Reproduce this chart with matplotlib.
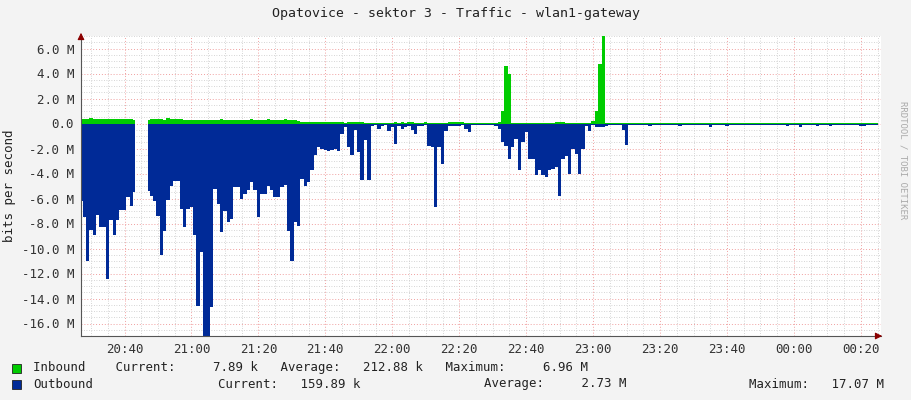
import matplotlib
matplotlib.use("Agg")
import matplotlib.pyplot as plt
import numpy as np
from matplotlib.ticker import MultipleLocator

nan = float('nan')
# minutes since 20:27, 1 sample per minute
outbound = [6.2,7.5,11,8.5,8.9,7.3,8.3,8.3,12.4,7.7,8.9,7.7,6.9,6.9,5.9,6.6,5.5,nan,nan,nan,
 5.4,5.8,6.2,7.4,10.5,8.6,6.1,5.0,4.6,4.6,6.8,8.3,6.8,6.7,8.9,14.6,10.3,17,17,14.7,
 5.2,6.4,8.7,7.0,7.9,7.6,5.1,5.1,6.0,5.6,5.3,4.7,5.3,7.5,5.6,5.6,5.0,5.3,5.9,5.9,
 5.1,4.9,8.6,11,7.9,8.2,4.4,5.0,4.7,3.7,2.5,1.9,2.0,2.1,2.2,2.1,2.0,2.2,0.8,0.3,
 1.9,2.5,0.5,2.3,4.5,1.3,4.5,0.2,0.1,0.4,0.2,0.1,0.6,0.3,1.6,0.2,0.4,0.3,0.2,0.5,
 0.8,0.2,0.2,0.1,1.8,1.9,6.7,1.9,3.2,0.6,0.2,0.2,0.2,0.2,0.1,0.4,0.7,0.1,0.1,0.1,
 0.1,0.1,0.1,0.1,0.2,0.4,1.5,1.8,2.8,1.9,1.2,3.7,1.5,0.7,2.8,2.8,4.1,3.7,4.1,4.3,
 3.7,3.6,3.5,5.8,2.8,2.6,4.0,2.0,2.4,4.0,2.0,0.2,0.6,0.1,0.3,0.3,0.3,0.2,0.1,0.1,
 0.1,0.1,0.5,1.7,0.1,0.1,0.1,0.1,0.1,0.1,0.2,0.1,0.1,0.1,0.1,0.1,0.1,0.1,0.1,0.2,
 0.1,0.1,0.1,0.1,0.1,0.1,0.1,0.1,0.3,0.1,0.1,0.1,0.1,0.2,0.1,0.1,0.1,0.1,0.1,0.1,
 0.1,0.1,0.1,0.1,0.1,0.1,0.1,0.1,0.1,0.1,0.1,0.2,0.1,0.1,0.1,0.3,0.1,0.1,0.1,0.1,
 0.2,0.1,0.1,0.1,0.2,0.1,0.1,0.1,0.1,0.1,0.1,0.1,0.1,0.2,0.2,0.1,0.1,0.1,0.1]
inbound = [0.35,0.4,0.4,0.45,0.4,0.4,0.35,0.4,0.4,0.35,0.4,0.35,0.35,0.4,0.35,0.4,0.3,nan,nan,nan,
 0.3,0.35,0.35,0.4,0.35,0.3,0.45,0.4,0.35,0.4,0.35,0.3,0.3,0.3,0.3,0.3,0.3,0.3,0.3,0.3,
 0.3,0.3,0.35,0.3,0.3,0.3,0.3,0.3,0.3,0.3,0.3,0.35,0.3,0.3,0.3,0.3,0.35,0.3,0.3,0.3,
 0.3,0.35,0.3,0.3,0.25,0.2,0.15,0.15,0.15,0.15,0.1,0.1,0.1,0.1,0.1,0.1,0.1,0.1,0.1,0.05,
 0.15,0.15,0.15,0.1,0.1,0.05,0.05,0.05,0.05,0.05,0.05,0.05,0.05,0.05,0.1,0.05,0.1,0.05,0.1,0.1,
 0.05,0.05,0.05,0.15,0.05,0.05,0.05,0.05,0.05,0.05,0.1,0.15,0.1,0.1,0.1,0.05,0.05,0.05,0.05,0.05,
 0.05,0.05,0.05,0.05,0.05,0.1,1.0,4.6,4.0,0.05,0.05,0.05,0.05,0.05,0.05,0.05,0.05,0.05,0.05,0.05,
 0.05,0.05,0.1,0.1,0.1,0.05,0.05,0.05,0.05,0.05,0.05,0.05,0.05,0.2,1.0,4.8,7.0,0.05,0.05,0.05]
inbound += [0.02] * (len(outbound) - len(inbound))

tick_pos = [13,33,53,73,93,113,133,153,173,193,213,233]
tick_labels = ["20:40","21:00","21:20","21:40","22:00","22:20","22:40","23:00","23:20","23:40","00:00","00:20"]

plt.rcParams['font.family'] = ['DejaVu Sans Mono']
fig = plt.figure(figsize=(9.11, 4.0), dpi=100, facecolor='#f3f3f3')
ax = fig.add_axes([81/911, 64/400, 800/911, 300/400])
ax.set_facecolor('white')

x = np.arange(len(outbound))
o = -np.array(outbound, dtype=float)
i = np.array(inbound, dtype=float)
ax.fill_between(x, 0, i, step='mid', color='#00cc00', linewidth=0)
ax.fill_between(x, 0, o, step='mid', color='#002a97', linewidth=0)

ax.set_xlim(0, 239)
ax.set_ylim(-17, 7)
ax.yaxis.set_major_locator(MultipleLocator(2))
ax.yaxis.set_minor_locator(MultipleLocator(0.5))
ax.set_xticks(tick_pos)
ax.set_xticklabels(tick_labels)
ax.set_xticks(np.arange(3, 239, 5), minor=True)
ax.set_yticklabels([f"{v:.1f} M" if v != 0 else "0.0" for v in ax.get_yticks()])
ax.grid(which='minor', color='#c8c8c8', linestyle=(0, (1, 2)), linewidth=0.6)
ax.grid(which='major', color='#f0a0a0', linestyle=(0, (1, 2)), linewidth=0.7)
ax.set_axisbelow(True)
for s in ['top', 'right']:
    ax.spines[s].set_visible(False)
for s in ['left', 'bottom']:
    ax.spines[s].set_color('#555555')
ax.tick_params(which='both', length=0, labelsize=9, colors='#333333', pad=5)
ax.annotate('', xy=(1.005, 0), xytext=(0.99, 0), xycoords='axes fraction',
            arrowprops=dict(arrowstyle='-|>', color='#8b0000', lw=0.8))
ax.annotate('', xy=(0, 1.02), xytext=(0, 0.99), xycoords='axes fraction',
            arrowprops=dict(arrowstyle='-|>', color='#8b0000', lw=0.8))
ax.set_ylabel('bits per second', fontsize=9, color='#222222')

fig.text(0.5, 1 - 14/400, 'Opatovice - sektor 3 - Traffic - wlan1-gateway',
         ha='center', va='center', fontsize=9.5, color='#222222')
fig.text(903/911, 0.5 + 40/400, 'RRDTOOL / TOBI OETIKER', rotation=270,
         ha='center', va='center', fontsize=6.5, color='#aaaaaa')

fig.patches.append(plt.Rectangle((12/911, 1 - 373/400), 9/911, 9/400, transform=fig.transFigure,
                                 facecolor='#00cc00', edgecolor='#222222', lw=0.6))
fig.patches.append(plt.Rectangle((12/911, 1 - 389/400), 9/911, 9/400, transform=fig.transFigure,
                                 facecolor='#002a97', edgecolor='#222222', lw=0.6))
fs = 8.9
fig.text(33/911, 1 - 368/400, 'Inbound    Current:     7.89 k   Average:   212.88 k   Maximum:     6.96 M',
         va='center', fontsize=fs, color='#222222')
fig.text(33/911, 1 - 384/400, 'Outbound', va='center', fontsize=fs, color='#222222')
fig.text(218/911, 1 - 384/400, 'Current:   159.89 k', va='center', fontsize=fs, color='#222222')
fig.text(484/911, 1 - 384/400, 'Average:     2.73 M', va='center', fontsize=fs, color='#222222')
fig.text(749/911, 1 - 384/400, 'Maximum:   17.07 M', va='center', fontsize=fs, color='#222222')

fig.savefig('out.png', dpi=100, facecolor=fig.get_facecolor())
